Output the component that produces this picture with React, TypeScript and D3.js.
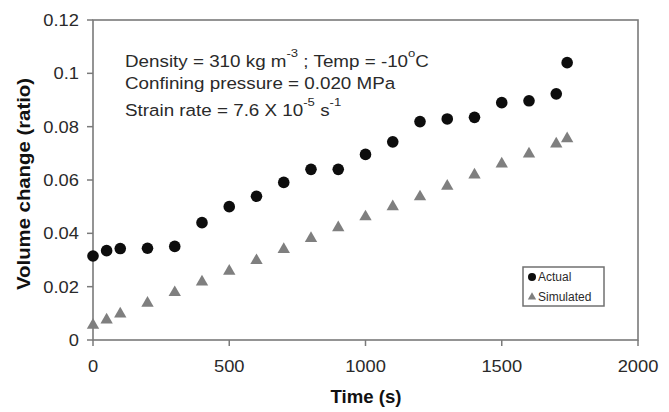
import React from "react";
import * as d3 from "d3";

const times = [0, 50, 100, 200, 300, 400, 500, 600, 700, 800, 900, 1000, 1100, 1200, 1300, 1400, 1500, 1600, 1700, 1740];
const actual = [0.0315, 0.0335, 0.0343, 0.0344, 0.0351, 0.044, 0.05, 0.0539, 0.0591, 0.064, 0.064, 0.0696, 0.0743, 0.0819, 0.0829, 0.0835, 0.089, 0.0897, 0.0923, 0.104];
const simulated = [0.0056, 0.0075, 0.0098, 0.0138, 0.0178, 0.0218, 0.0258, 0.0298, 0.034, 0.0381, 0.0421, 0.0462, 0.05, 0.0537, 0.0577, 0.0619, 0.066, 0.0698, 0.0735, 0.0755];
const xTicks = [0, 500, 1000, 1500, 2000];
const yTicks = [0, 0.02, 0.04, 0.06, 0.08, 0.1, 0.12];
const yTickLabels = ["0", "0.02", "0.04", "0.06", "0.08", "0.1", "0.12"];
const seriesNames = ["Actual", "Simulated"];

const W = 669, H = 412;
const FONT = "'Liberation Sans', Arial, sans-serif";

function ST({ x, y, sx, children, ...rest }: any) {
  return (
    <g transform={`translate(${x},${y}) scale(${sx},1)`}>
      <text x={0} y={0} {...rest}>{children}</text>
    </g>
  );
}

export default function App() {
  const x = d3.scaleLinear().domain([0, 2000]).range([93, 638]);
  const y = d3.scaleLinear().domain([0, 0.12]).range([340, 20]);
  const tri = d3.symbol().type(d3.symbolTriangle).size(66)();
  const triSmall = d3.symbol().type(d3.symbolTriangle).size(30)();
  const frame = "#7a7a7a";
  const textCol = "#2a2a2a";
  const tickSx = 1.11;
  const annSx = 1.14;

  return (
    <svg width={W} height={H} style={{ position: "absolute", left: 0, top: 0, background: "#fff" }} fontFamily={FONT}>
      <rect x={0} y={0} width={W} height={H} fill="#fff" />
      {/* frame */}
      <rect x={x(0)} y={y(0.12)} width={x(2000) - x(0)} height={y(0) - y(0.12)} fill="none" stroke={frame} strokeWidth={1.6} />
      {/* y ticks */}
      {yTicks.map((t, i) => (
        <g key={"yt" + i}>
          <line x1={x(0) - 6} x2={x(0)} y1={y(t)} y2={y(t)} stroke={frame} strokeWidth={1.5} />
          <ST x={79} y={y(t) + 6} sx={tickSx} textAnchor="end" fontSize={16.5} fill={textCol}>{yTickLabels[i]}</ST>
        </g>
      ))}
      {/* x ticks */}
      {xTicks.map((t, i) => (
        <g key={"xt" + i}>
          <line x1={x(t)} x2={x(t)} y1={y(0)} y2={y(0) + 6} stroke={frame} strokeWidth={1.5} />
          <ST x={x(t)} y={372} sx={tickSx} textAnchor="middle" fontSize={16.5} fill={textCol}>{t}</ST>
        </g>
      ))}
      {/* axis titles */}
      <text x={366} y={403} textAnchor="middle" fontSize={18} fontWeight="bold" fill="#111" textLength={71} lengthAdjust="spacingAndGlyphs">Time (s)</text>
      <text transform="translate(30,184) rotate(-90)" textAnchor="middle" fontSize={18} fontWeight="bold" fill="#111" textLength={212} lengthAdjust="spacingAndGlyphs">Volume change (ratio)</text>
      {/* annotation */}
      <g fill={textCol}>
        <ST x={125} y={67} sx={annSx} fontSize={16.5}>
          Density = 310 kg m<tspan dy={-10} fontSize={11.5}>-3</tspan><tspan dy={10}> ; Temp = -10</tspan><tspan dy={-10} fontSize={11.5}>o</tspan><tspan dy={10}>C</tspan>
        </ST>
        <ST x={125} y={89} sx={annSx} fontSize={16.5}>Confining pressure = 0.020 MPa</ST>
        <ST x={125} y={116} sx={annSx} fontSize={16.5}>
          Strain rate = 7.6 X 10<tspan dy={-10} fontSize={11.5}>-5</tspan><tspan dy={10}> s</tspan><tspan dy={-10} fontSize={11.5}>-1</tspan>
        </ST>
      </g>
      {/* simulated */}
      {times.map((t, i) => (
        <path key={"s" + i} d={tri} transform={`translate(${x(t)},${y(simulated[i])})`} fill="#7f7f7f" />
      ))}
      {/* actual */}
      {times.map((t, i) => (
        <circle key={"a" + i} cx={x(t)} cy={y(actual[i])} r={5.8} fill="#0d0d0d" />
      ))}
      {/* legend */}
      <rect x={523} y={267} width={81} height={39} fill="#fff" stroke="#707070" strokeWidth={1.5} />
      <circle cx={532} cy={277} r={4} fill="#0d0d0d" />
      <path d={triSmall} transform="translate(532,297)" fill="#7f7f7f" />
      <text x={538} y={281} fontSize={12} fill={textCol}>{seriesNames[0]}</text>
      <text x={538} y={301} fontSize={12} fill={textCol}>{seriesNames[1]}</text>
    </svg>
  );
}
